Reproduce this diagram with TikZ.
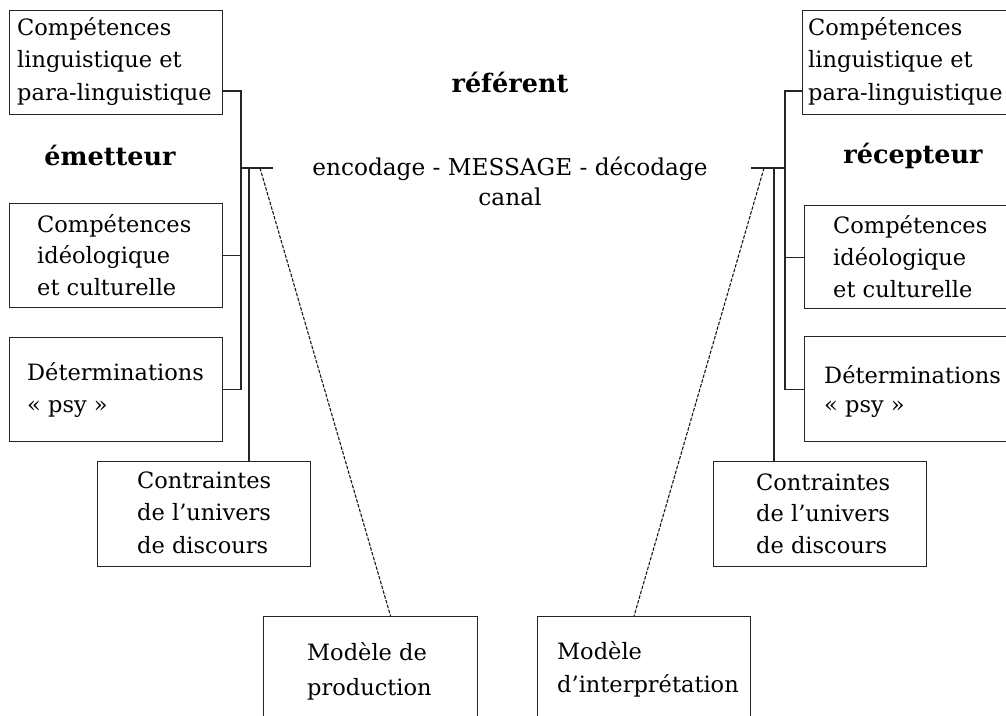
\documentclass[tikz,border=0pt]{standalone}
\usepackage{fontspec}
\setmainfont{DejaVu Serif}
\usetikzlibrary{positioning}

\begin{document}
\begin{tikzpicture}[
  x=1pt,y=-1pt,
  link/.style={line width=1.1pt,draw=black!85},
  hint/.style={line width=1.1pt,draw=black!90,dash pattern=on 3.5pt off 1.5pt},
  frame/.style={draw=black!85,line width=1.1pt,anchor=north west,inner sep=0pt,
    minimum width=213pt,minimum height=104pt},
  txt/.style={anchor=base west,align=left,inner sep=0pt,
    font=\fontsize{22.5}{32.5}\selectfont},
  role/.style={anchor=base,inner sep=0pt,font=\fontsize{25.5}{28}\selectfont\bfseries}
]
\useasboundingbox (0,0) rectangle (1006,715);
\clip (0,0) rectangle (1006,715);

% sender side (text nodes sit on the baseline of their last line)
\node[frame] (lingE) at (9,10) {};
\node[frame] (ideoE) at (9,203) {};
\node[frame] (psyE) at (9,337) {};
\node[frame,minimum height=105pt] (univE) at (97,461) {};
\node[frame,minimum width=214pt,minimum height=130pt] (prod) at (263,616) {};

\node[txt] (tLingE) at (17,100) {Compétences\\linguistique et\\para-linguistique};
\node[txt,font=\fontsize{22.5}{31.5}\selectfont] (tIdeoE) at (37,295) {Compétences\\idéologique\\et culturelle};
\node[txt,font=\fontsize{22.5}{31.7}\selectfont] (tPsyE) at (27,412) {Déterminations\\« psy »};
\node[txt] (tUnivE) at (137,553) {Contraintes\\de l'univers\\de discours};
\node[txt,font=\fontsize{22.5}{35}\selectfont] (tProd) at (307,695) {Modèle de\\production};

% receiver side
\node[frame,minimum width=230pt] (lingR) at (802,10) {};
\node[frame,minimum width=230pt,minimum height=103pt] (ideoR) at (804,205) {};
\node[frame,minimum width=230pt,minimum height=105pt] (psyR) at (804,336) {};
\node[frame,minimum height=105pt] (univR) at (713,461) {};
\node[frame,minimum height=130pt] (interp) at (537,616) {};

\node[txt] (tLingR) at (808,100) {Compétences\\linguistique et\\para-linguistique};
\node[txt,font=\fontsize{22.5}{31.8}\selectfont] (tIdeoR) at (833,297) {Compétences\\idéologique\\et culturelle};
\node[txt,font=\fontsize{22.5}{29}\selectfont] (tPsyR) at (824,412) {Déterminations\\« psy »};
\node[txt,font=\fontsize{22.5}{31.5}\selectfont] (tUnivR) at (756,553) {Contraintes\\de l'univers\\de discours};
\node[txt,font=\fontsize{22.5}{33}\selectfont] (tInterp) at (557,692) {Modèle\\d'interprétation};

% centre
\node[role] (emetteur) at (110,165) {émetteur};
\node[role] (referent) at (510,92) {référent};
\node[role] (recepteur) at (913,163) {récepteur};
\node[txt,anchor=base,font=\fontsize{23.2}{28}\selectfont] (message) at (510,175) {encodage - MESSAGE - décodage};
\node[txt,anchor=base,font=\fontsize{23.2}{28}\selectfont] (canal) at (510,205) {canal};

% connectors, left
\coordinate (barE) at (241,91);
\coordinate (hubE) at (273,168);
\coordinate (stemE) at (249,168);
\coordinate (tipE) at (260,168);
\draw[link] (lingE.east |- barE) -- (barE) -- (barE |- psyE.east) -- (psyE.east);
\draw[link] (ideoE.east) -- (barE |- ideoE.east);
\draw[link] (barE |- hubE) -- (hubE);
\draw[link] (stemE) -- (stemE |- univE.north);
\draw[hint] (tipE) -- ([xshift=20pt]prod.north);

% connectors, right
\coordinate (barR) at (785,91);
\coordinate (hubR) at (751,168);
\coordinate (stemR) at (774,168);
\coordinate (tipR) at (764,168);
\draw[link] (lingR.west |- barR) -- (barR) -- (barR |- psyR.west) -- (psyR.west);
\draw[link] (ideoR.west) -- (barR |- ideoR.west);
\draw[link] (barR |- hubR) -- (hubR);
\draw[link] (stemR) -- (stemR |- univR.north);
\draw[hint] (tipR) -- ([xshift=-10pt]interp.north);
\end{tikzpicture}
\end{document}
